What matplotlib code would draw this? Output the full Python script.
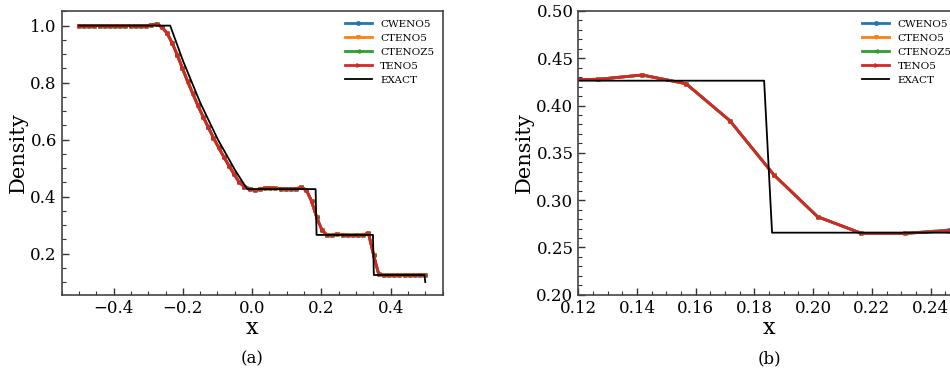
import matplotlib
matplotlib.use("Agg")
import matplotlib.pyplot as plt
from matplotlib.ticker import AutoMinorLocator
import numpy as np

plt.rcParams['font.family'] = ['DejaVu Serif']
plt.rcParams['mathtext.fontset'] = 'dejavuserif'

FIG_DIMS = (9.5, 3.74)

# grid nodes (68 points on [-0.5, 0.5])
x_num = np.linspace(-0.5, 0.5, 68)

rho_teno5 = [
    1.000, 1.000, 1.000, 1.000, 1.000, 1.000, 1.000, 1.000, 1.000, 1.000,
    1.000, 1.000, 1.000, 1.000, 1.002, 1.006, 0.995, 0.975, 0.940, 0.898,
    0.851, 0.805, 0.762, 0.720, 0.681, 0.644, 0.607, 0.573, 0.540, 0.509,
    0.479, 0.450, 0.435, 0.428, 0.423, 0.427, 0.430, 0.431, 0.429, 0.428,
    0.427, 0.427, 0.4278, 0.4323, 0.4231, 0.384, 0.3269, 0.2825, 0.2649, 0.2649,
    0.2677, 0.266, 0.265, 0.264, 0.266, 0.265, 0.272, 0.195, 0.127, 0.124,
    0.125, 0.125, 0.125, 0.125, 0.125, 0.125, 0.125, 0.125,
]
rho_ctenoz5 = list(rho_teno5)
rho_cteno5 = list(rho_teno5)
rho_cweno5 = list(rho_teno5)
rho_cweno5[50] = 0.2685

x_exact = [-0.5, -0.2366, -0.2, -0.15, -0.1, -0.05, -0.0143, 0.1833, 0.186,
           0.3489, 0.3514, 0.4975, 0.5]
rho_exact = [1.0, 1.0, 0.8775, 0.7299, 0.6029, 0.4943, 0.4263, 0.4263, 0.2656,
             0.2656, 0.125, 0.125, 0.1]

schemes = ['CWENO5', 'CTENO5', 'CTENOZ5', 'TENO5']
scheme_data = [rho_cweno5, rho_cteno5, rho_ctenoz5, rho_teno5]
scheme_colors = ['tab:blue', 'tab:orange', 'tab:green', 'tab:red']
scheme_markers = ['o', 'v', '<', '>']


def _subplot_density(ax, xlim=None, ylim=None, caption=None):
    for name, rho, color, marker in zip(schemes, scheme_data, scheme_colors, scheme_markers):
        ax.plot(x_num, rho, color=color, marker=marker, markersize=2.5, lw=2.0, label=name)
    ax.plot(x_exact, rho_exact, color='black', lw=1.3, label='EXACT')

    if xlim is not None:
        ax.set_xlim(xlim)
    if ylim is not None:
        ax.set_ylim(ylim)
    ax.xaxis.set_minor_locator(AutoMinorLocator())
    ax.yaxis.set_minor_locator(AutoMinorLocator())
    ax.tick_params(which='both', direction='in', labelsize=12, colors='#333333',
                   labelcolor='black')
    ax.tick_params(which='major', length=5, width=1.0)
    ax.tick_params(which='minor', length=3, width=0.8)
    for sp in ax.spines.values():
        sp.set_color('#444444')
        sp.set_linewidth(1.2)

    ax.set_xlabel('x', fontsize=16, labelpad=0)
    ax.set_ylabel('Density', fontsize=15, labelpad=2)
    ax.legend(loc='upper right', frameon=False, fontsize=7.5, handlelength=2.6,
              labelspacing=0.45, borderaxespad=0.4)
    ax.text(0.5, -0.225, caption, transform=ax.transAxes, ha='center', va='center',
            fontsize=12)


fig = plt.figure(figsize=FIG_DIMS, dpi=100)
ax_a = fig.add_axes([0.0649, 0.2112, 0.401, 0.7594])
ax_b = fig.add_axes([0.6087, 0.2120, 0.4018, 0.7586])

_subplot_density(ax_a, caption='(a)')
_subplot_density(ax_b, xlim=(0.12, 0.25), ylim=(0.2, 0.5), caption='(b)')

fig.savefig('out.png', dpi=100)
